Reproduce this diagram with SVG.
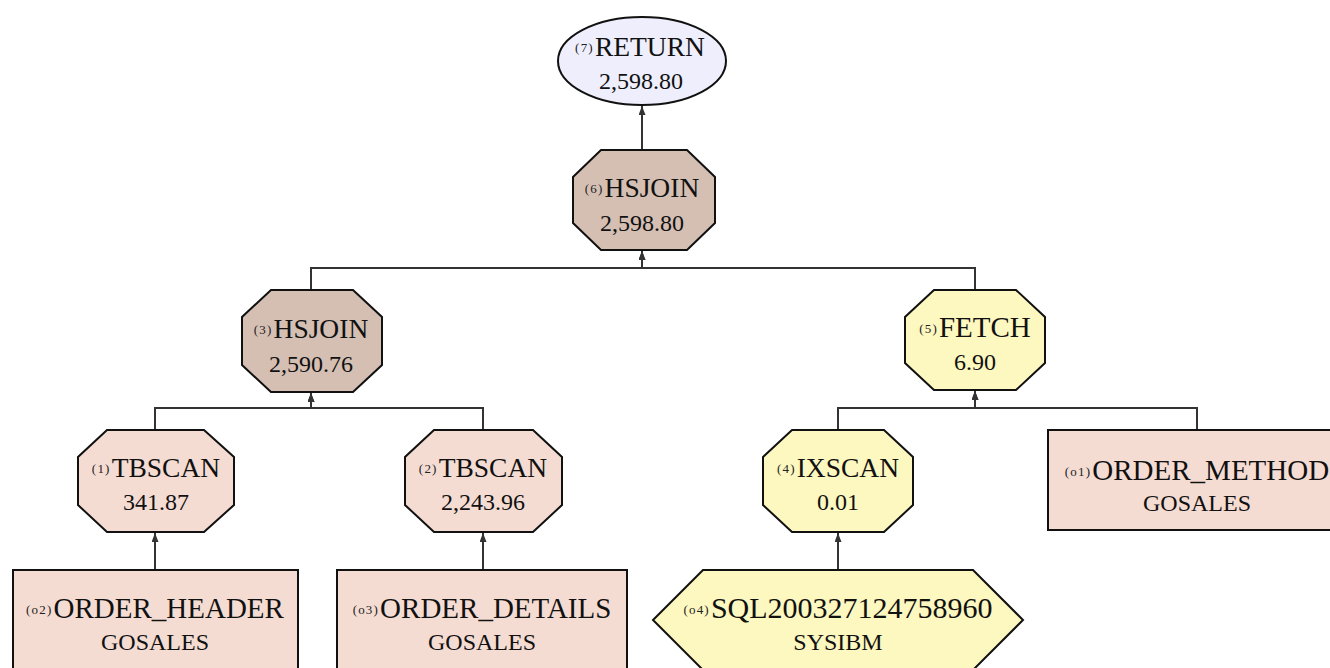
<svg xmlns="http://www.w3.org/2000/svg" width="1330" height="668" viewBox="0 0 1330 668">
  <defs>
    <marker id="arr" markerWidth="9" markerHeight="7" refX="9" refY="3.5" orient="auto" markerUnits="userSpaceOnUse" viewBox="0 0 9 7">
      <path d="M0,0 L9,3.5 L0,7 Z" fill="#333"/>
    </marker>
    <style>
      .shape { stroke: #111; stroke-width: 2; }
      .ret { fill: #eeeefc; }
      .join { fill: #d5bfb3; }
      .scan { fill: #f5dcd3; }
      .idx { fill: #fdf7c0; }
      .edge { fill: none; stroke: #333; stroke-width: 2; }
      text { font-family: Liberation Serif, DejaVu Serif, serif; fill: #111; text-anchor: middle; }
      .l1 { font-size: 27.5px; }
      .l1b { font-size: 29px; }
      .l1w { font-size: 30px; }
      .l2 { font-size: 24px; }
      .num { font-size: 13px; fill: #222; letter-spacing: 1.2px; }
    </style>
  </defs>

  <g id="connectors">
    <path class="edge" d="M642,150 L642,106" marker-end="url(#arr)"/>
    <path class="edge" d="M311,290 L311,268 L642,268 L642,251" marker-end="url(#arr)"/>
    <path class="edge" d="M975,290 L975,268 L642,268 L642,251" marker-end="url(#arr)"/>
    <path class="edge" d="M155,430 L155,408 L311,408 L311,393" marker-end="url(#arr)"/>
    <path class="edge" d="M483,430 L483,408 L311,408 L311,393" marker-end="url(#arr)"/>
    <path class="edge" d="M838,430 L838,408 L975,408 L975,391" marker-end="url(#arr)"/>
    <path class="edge" d="M1197,430 L1197,408 L975,408 L975,391" marker-end="url(#arr)"/>
    <path class="edge" d="M155,570 L155,533" marker-end="url(#arr)"/>
    <path class="edge" d="M483,570 L483,533" marker-end="url(#arr)"/>
    <path class="edge" d="M838,570 L838,533" marker-end="url(#arr)"/>
  </g>

  <g id="n7-return">
    <ellipse class="shape ret" cx="642" cy="61" rx="84" ry="44"/>
    <text x="640" y="56" class="l1"><tspan class="num" dy="-4">(7)</tspan><tspan dy="4" dx="1">RETURN</tspan></text>
    <text x="641" y="89" class="l2">2,598.80</text>
  </g>

  <g id="n6-hsjoin">
    <polygon class="shape join" points="601,150 687,150 715,177 715,223 687,250 601,250 573,223 573,177"/>
    <text x="642" y="197" class="l1"><tspan class="num" dy="-4">(6)</tspan><tspan dy="4" dx="1">HSJOIN</tspan></text>
    <text x="642" y="231" class="l2">2,598.80</text>
  </g>

  <g id="n3-hsjoin">
    <polygon class="shape join" points="271,290 353,290 382,317 382,365 353,392 271,392 242,365 242,317"/>
    <text x="311" y="338" class="l1"><tspan class="num" dy="-4">(3)</tspan><tspan dy="4" dx="1">HSJOIN</tspan></text>
    <text x="311" y="372" class="l2">2,590.76</text>
  </g>

  <g id="n5-fetch">
    <polygon class="shape idx" points="934,290 1016,290 1045,317 1045,363 1016,390 934,390 905,363 905,317"/>
    <text x="975" y="337" class="l1b"><tspan class="num" dy="-4">(5)</tspan><tspan dy="4" dx="1">FETCH</tspan></text>
    <text x="975" y="370" class="l2">6.90</text>
  </g>

  <g id="n1-tbscan">
    <polygon class="shape scan" points="107,430 204,430 234,457 234,505 204,532 107,532 78,505 78,457"/>
    <text x="156" y="477" class="l1"><tspan class="num" dy="-4">(1)</tspan><tspan dy="4" dx="1">TBSCAN</tspan></text>
    <text x="156" y="510" class="l2">341.87</text>
  </g>

  <g id="n2-tbscan">
    <polygon class="shape scan" points="434,430 533,430 562,457 562,505 533,532 434,532 405,505 405,457"/>
    <text x="483" y="477" class="l1"><tspan class="num" dy="-4">(2)</tspan><tspan dy="4" dx="1">TBSCAN</tspan></text>
    <text x="483" y="510" class="l2">2,243.96</text>
  </g>

  <g id="n4-ixscan">
    <polygon class="shape idx" points="792,430 884,430 913,457 913,505 884,532 792,532 763,505 763,457"/>
    <text x="838" y="477" class="l1"><tspan class="num" dy="-4">(4)</tspan><tspan dy="4" dx="1">IXSCAN</tspan></text>
    <text x="838" y="510" class="l2">0.01</text>
  </g>

  <g id="o1-order-method">
    <rect class="shape scan" x="1048" y="430" width="300" height="100"/>
    <text x="1197" y="480" class="l1b"><tspan class="num" dy="-4">(o1)</tspan><tspan dy="4" dx="1">ORDER_METHOD</tspan></text>
    <text x="1197" y="511" class="l2">GOSALES</text>
  </g>

  <g id="o2-order-header">
    <rect class="shape scan" x="13" y="570" width="285" height="100"/>
    <text x="155" y="618" class="l1b"><tspan class="num" dy="-4">(o2)</tspan><tspan dy="4" dx="1">ORDER_HEADER</tspan></text>
    <text x="155" y="650" class="l2">GOSALES</text>
  </g>

  <g id="o3-order-details">
    <rect class="shape scan" x="337" y="570" width="290" height="100"/>
    <text x="482" y="618" class="l1b"><tspan class="num" dy="-4">(o3)</tspan><tspan dy="4" dx="1">ORDER_DETAILS</tspan></text>
    <text x="482" y="650" class="l2">GOSALES</text>
  </g>

  <g id="o4-sql-index">
    <polygon class="shape idx" points="703,570 973,570 1023,620 973,670 703,670 653,620"/>
    <text x="838" y="618" class="l1w"><tspan class="num" dy="-4">(o4)</tspan><tspan dy="4" dx="1">SQL200327124758960</tspan></text>
    <text x="838" y="650" class="l2">SYSIBM</text>
  </g>
</svg>
